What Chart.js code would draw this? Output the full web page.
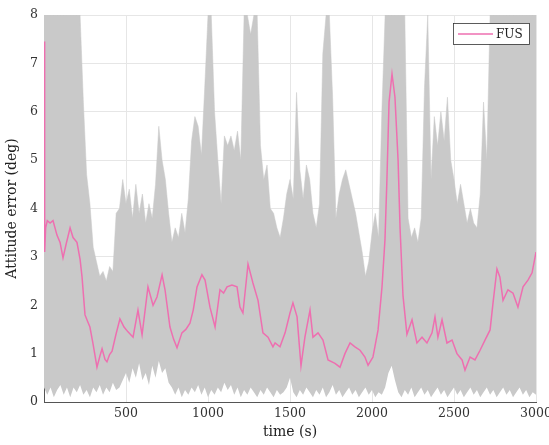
<!DOCTYPE html>
<html>
<head>
<meta charset="utf-8">
<script src="https://cdn.jsdelivr.net/npm/chart.js@4/dist/chart.umd.min.js"></script>
<style>
  body { margin: 0; background: #fff; }
  #wrap { width: 549px; height: 445px; }
</style>
</head>
<body>
<div id="wrap"><canvas id="myChart" width="549" height="445"></canvas></div>
<script>
'use strict';

// gray band (all runs) - envelope, every 20 s
let tGray = [];
for (let t = 0; t <= 3000; t += 20) tGray.push(t);

let grayUpper = [
  8, 8, 8, 8, 8, 8, 8, 8, 8, 8,
  8, 8, 6.2, 4.7, 4.1, 3.2, 2.9, 2.6, 2.7, 2.5,
  2.8, 2.7, 3.9, 4.0, 4.6, 4.1, 4.4, 3.8, 4.5, 3.9,
  4.3, 3.7, 4.1, 3.8, 4.5, 5.7, 5.0, 4.6, 3.9, 3.3,
  3.6, 3.4, 3.9, 3.5, 4.2, 5.4, 5.9, 5.7, 5.1, 6.5,
  8, 8, 6.0, 5.0, 4.1, 5.5, 5.3, 5.5, 5.2, 5.6,
  5.0, 8, 8, 7.6, 8, 8, 5.3, 4.6, 4.9, 4.0,
  3.9, 3.6, 3.4, 3.8, 4.3, 4.6, 4.2, 6.4, 4.8, 4.2,
  4.9, 4.6, 3.9, 3.6, 4.1, 7.2, 8, 8, 6.3, 3.8,
  4.3, 4.6, 4.8, 4.5, 4.2, 3.9, 3.5, 3.1, 2.6, 2.9,
  3.5, 3.9, 3.4, 6.0, 8, 8, 8, 8, 8, 8,
  8, 3.8, 3.4, 3.6, 3.3, 3.8, 6.5, 8, 4.6, 5.9,
  5.3, 6.0, 5.4, 6.3, 5.0, 4.6, 4.1, 4.5, 4.1, 3.7,
  4.0, 3.7, 3.6, 4.3, 6.2, 5.0, 8, 8, 8, 8,
  8, 8, 8, 8, 8, 8, 8, 8, 8, 8,
  8
];

let grayLower = [
  0.3, 0.15, 0.3, 0.1, 0.25, 0.35, 0.15, 0.3, 0.1, 0.3,
  0.2, 0.35, 0.15, 0.25, 0.1, 0.3, 0.2, 0.35, 0.15, 0.3,
  0.2, 0.4, 0.25, 0.3, 0.45, 0.6, 0.4, 0.7, 0.5, 0.8,
  0.45, 0.6, 0.35, 0.75, 0.5, 0.85, 0.6, 0.7, 0.4, 0.3,
  0.15, 0.3, 0.1, 0.25, 0.15, 0.3, 0.2, 0.35, 0.15, 0.3,
  0.1, 0.25, 0.15, 0.3, 0.2, 0.4, 0.25, 0.35, 0.15, 0.3,
  0.1, 0.25, 0.15, 0.3, 0.2, 0.1, 0.25, 0.15, 0.3, 0.2,
  0.1, 0.25, 0.15, 0.2, 0.3, 0.5, 0.2, 0.1, 0.25, 0.15,
  0.3, 0.2, 0.1, 0.25, 0.15, 0.3, 0.1, 0.2, 0.35, 0.15,
  0.25, 0.1, 0.2, 0.3, 0.15, 0.25, 0.1, 0.2, 0.3, 0.15,
  0.25, 0.1, 0.2, 0.15, 0.3, 0.6, 0.75, 0.45, 0.2, 0.1,
  0.25, 0.15, 0.3, 0.1, 0.2, 0.3, 0.15, 0.25, 0.1, 0.2,
  0.3, 0.15, 0.25, 0.1, 0.2, 0.3, 0.15, 0.25, 0.1, 0.2,
  0.3, 0.15, 0.25, 0.1, 0.2, 0.3, 0.15, 0.25, 0.1, 0.2,
  0.3, 0.15, 0.25, 0.1, 0.2, 0.3, 0.15, 0.25, 0.1, 0.2,
  0.15
];

// FUS line
let tFus = [
  0, 4, 10, 20, 37, 55, 79, 98, 116, 134,
  159, 177, 201, 220, 232, 250, 268, 280, 299, 323,
  341, 354, 372, 384, 400, 415, 439, 463, 488, 512,
  543, 573, 598, 634, 665, 689, 720, 738, 768, 790,
  811, 841, 865, 890, 910, 933, 963, 982, 1012, 1043,
  1073, 1095, 1116, 1146, 1177, 1195, 1213, 1244, 1274, 1305,
  1335, 1366, 1396, 1409, 1439, 1470, 1500, 1518, 1543, 1567,
  1591, 1622, 1640, 1671, 1701, 1732, 1774, 1805, 1835, 1866,
  1896, 1927, 1957, 1976, 2006, 2037, 2061, 2079, 2091, 2104,
  2122, 2140, 2159, 2171, 2189, 2213, 2244, 2274, 2305, 2335,
  2366, 2384, 2402, 2427, 2457, 2488, 2518, 2549, 2567, 2598,
  2628, 2659, 2689, 2720, 2738, 2762, 2780, 2799, 2829, 2860,
  2890, 2921, 2951, 2976, 3000
];

let fus = [
  7.45, 3.1, 3.6, 3.75, 3.7, 3.75, 3.45, 3.3, 2.98, 3.25,
  3.6, 3.4, 3.3, 2.95, 2.58, 1.8, 1.65, 1.55, 1.2, 0.72,
  0.95, 1.1, 0.88, 0.83, 0.98, 1.05, 1.4, 1.72, 1.55, 1.45,
  1.34, 1.9, 1.39, 2.38, 2.0, 2.17, 2.63, 2.32, 1.55, 1.3,
  1.12, 1.43, 1.5, 1.63, 1.9, 2.38, 2.63, 2.52, 1.96, 1.55,
  2.32, 2.25, 2.38, 2.42, 2.38, 1.96, 1.84, 2.85, 2.46, 2.1,
  1.43, 1.34, 1.14, 1.22, 1.14, 1.43, 1.84, 2.05, 1.76, 0.75,
  1.34, 1.9, 1.34, 1.43, 1.28, 0.87, 0.8, 0.72, 1.0, 1.22,
  1.14, 1.07, 0.93, 0.76, 0.93, 1.49, 2.38, 3.35, 4.6, 6.2,
  6.78, 6.3, 5.0, 3.6, 2.2, 1.4, 1.7, 1.22, 1.34, 1.22,
  1.43, 1.76, 1.34, 1.7, 1.22, 1.28, 1.0, 0.87, 0.66, 0.93,
  0.87, 1.07, 1.28, 1.49, 2.05, 2.75, 2.58, 2.1, 2.32, 2.25,
  1.96, 2.38, 2.52, 2.67, 3.1
];

let xTicks = [500, 1000, 1500, 2000, 2500, 3000];

let grayColor = '#c9c9c9';
let pinkColor = '#ee6fb0';
let serif = '"DejaVu Serif", "Liberation Serif", serif';

function toPoints(xs, ys) {
    let pts = [];
    for (let i = 0; i < xs.length; i++) {
        pts.push({ x: xs[i], y: ys[i] });
    }
    return pts;
}

// legend box drawn inside the plot, top right
const boxLegend = {
    id: 'boxLegend',
    afterDatasetsDraw(chart) {
        let ctx = chart.ctx;
        let area = chart.chartArea;
        let ds = chart.data.datasets[0];
        let w = 76, h = 21;
        let x0 = area.right - 7 - w;
        let y0 = area.top + 8;
        ctx.save();
        ctx.fillStyle = '#fff';
        ctx.fillRect(x0, y0, w, h);
        ctx.strokeStyle = '#333';
        ctx.lineWidth = 0.8;
        ctx.strokeRect(x0 + 0.5, y0 + 0.5, w, h);
        ctx.strokeStyle = ds.borderColor;
        ctx.lineWidth = 1.5;
        ctx.beginPath();
        ctx.moveTo(x0 + 5, y0 + h / 2 + 0.5);
        ctx.lineTo(x0 + 40, y0 + h / 2 + 0.5);
        ctx.stroke();
        ctx.fillStyle = '#222';
        ctx.font = '12px ' + serif;
        ctx.textBaseline = 'middle';
        ctx.fillText(ds.label, x0 + 43, y0 + h / 2 + 1);
        ctx.restore();
    }
};

let ctx = document.getElementById('myChart').getContext('2d');
let myChart = new Chart(ctx, {
    type: 'line',
    data: {
        datasets: [{
            label: 'FUS',
            data: toPoints(tFus, fus),
            borderColor: pinkColor,
            borderWidth: 1.5,
            pointRadius: 0,
            fill: false,
            tension: 0
        }, {
            label: 'lower',
            data: toPoints(tGray, grayLower),
            borderWidth: 0,
            borderColor: grayColor,
            pointRadius: 0,
            fill: false,
            tension: 0
        }, {
            label: 'runs',
            data: toPoints(tGray, grayUpper),
            borderWidth: 0.5,
            borderColor: grayColor,
            backgroundColor: grayColor,
            pointRadius: 0,
            fill: 1,
            tension: 0
        }]
    },
    options: {
        responsive: false,
        animation: false,
        layout: { padding: { top: 15, right: 13, left: 0, bottom: 0 } },
        plugins: {
            legend: { display: false },
            tooltip: { enabled: false }
        },
        scales: {
            x: {
                type: 'linear',
                min: 0,
                max: 3000,
                afterFit: function (scale) {
                    scale.height = 43;
                    scale.paddingLeft = 0;
                    scale.paddingRight = 0;
                },
                afterBuildTicks: function (scale) {
                    scale.ticks = [0].concat(xTicks).map(v => ({ value: v }));
                },
                ticks: {
                    color: '#333',
                    font: { family: serif, size: 12.5 },
                    padding: 4,
                    maxRotation: 0,
                    callback: v => v === 0 ? '' : v
                },
                grid: { color: '#e6e6e6', tickLength: 0 },
                border: { display: true, color: '#555', width: 1 },
                title: {
                    display: true,
                    text: 'time (s)',
                    color: '#222',
                    font: { family: serif, size: 14 },
                    padding: { top: 1 }
                }
            },
            y: {
                min: 0,
                max: 8,
                afterFit: function (scale) {
                    scale.width = 44;
                    scale.paddingTop = 0;
                    scale.paddingBottom = 0;
                },
                ticks: {
                    stepSize: 1,
                    color: '#333',
                    font: { family: serif, size: 12.5 },
                    padding: 6
                },
                grid: { color: '#e6e6e6', tickLength: 0 },
                border: { display: true, color: '#555', width: 1 },
                title: {
                    display: true,
                    text: 'Attitude error (deg)',
                    color: '#222',
                    font: { family: serif, size: 14 },
                    padding: { bottom: 2 }
                }
            }
        }
    },
    plugins: [boxLegend]
});
</script>
</body>
</html>
